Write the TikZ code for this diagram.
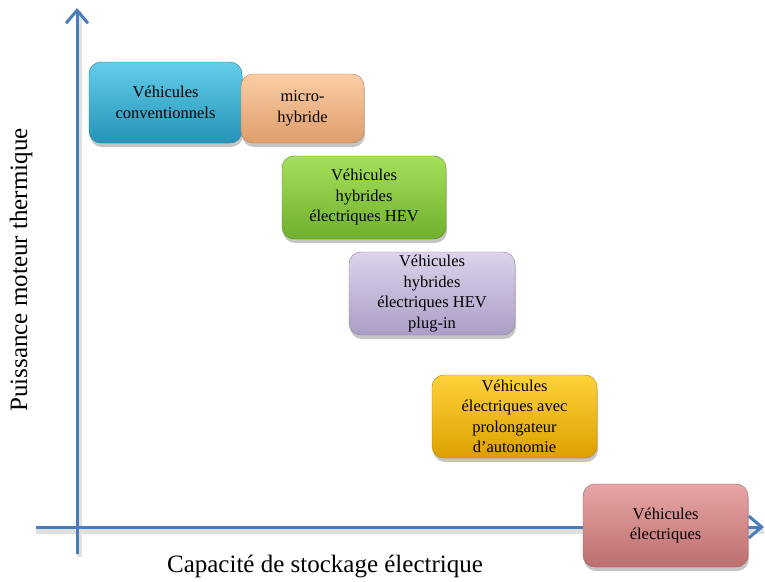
\documentclass[tikz,border=0pt]{standalone}
\usepackage{fontspec}
\setmainfont{Liberation Serif}
\usetikzlibrary{arrows.meta,shadows}
\definecolor{axisblue}{HTML}{4A7EBB}
\definecolor{cyanT}{HTML}{63CDEA}\definecolor{cyanB}{HTML}{2594B8}
\definecolor{orT}{HTML}{FBCDA6}\definecolor{orB}{HTML}{DE9E6C}
\definecolor{grT}{HTML}{A6E05C}\definecolor{grB}{HTML}{6FB02C}
\definecolor{lvT}{HTML}{DCD3EC}\definecolor{lvB}{HTML}{AC9EC6}
\definecolor{gdT}{HTML}{FFD23A}\definecolor{gdB}{HTML}{DDA000}
\definecolor{rsT}{HTML}{E8A6A6}\definecolor{rsB}{HTML}{BD6E6E}
\begin{document}
\begin{tikzpicture}[x=1pt,y=-1pt,
  box/.style={rectangle,rounded corners=12pt,inner sep=2pt,align=center,
    font=\fontsize{16.5}{20.5}\selectfont,
    drop shadow={shadow xshift=1pt,shadow yshift=-4pt,opacity=0.45,fill=black!50}},
  axis/.style={draw=axisblue,line width=3pt,-{Straight Barb[length=13pt,width=22pt]}},
  axshadow/.style={draw=black!12,line width=5pt},
  axlabel/.style={font=\fontsize{25}{30}\selectfont}]
\useasboundingbox (0,0) rectangle (765,581);
\fill[white] (0,0) rectangle (765,581);
% axes
\coordinate (ybot) at (77,554);
\coordinate (ytop) at (77,8);
\coordinate (xleft) at (36,527);
\coordinate (xright) at (764,527);
\draw[axshadow] ([xshift=2pt,yshift=-3pt]ybot) -- ([xshift=2pt,yshift=-3pt]ytop);
\draw[axshadow] ([yshift=-4pt]xleft) -- ([yshift=-4pt]xright);
\draw[axis] (ybot) -- (ytop);
\draw[axis] (xleft) -- (xright);
% labels
\node[axlabel,rotate=90] (ylab) at (21,270) {Puissance moteur thermique};
\node[axlabel] (xlab) at (325,566) {Capacité de stockage électrique};
% boxes
\node[box,minimum width=153pt,minimum height=81pt,draw=cyanB!80!black,line width=0.4pt,
  top color=cyanT,bottom color=cyanB] (conv) at (165.5,102.5) {Véhicules\\conventionnels};
\node[box,minimum width=123pt,minimum height=69pt,draw=orB!80!black,line width=0.4pt,
  top color=orT,bottom color=orB] (micro) at (302.5,108.5) {micro-\\hybride};
\node[box,minimum width=164pt,minimum height=83pt,draw=grB!80!black,line width=0.4pt,
  top color=grT,bottom color=grB] (hev) at (364,197.5) {Véhicules\\hybrides\\électriques HEV};
\node[box,minimum width=166pt,minimum height=83pt,draw=lvB!80!black,line width=0.4pt,
  top color=lvT,bottom color=lvB] (plug) at (432,293.5) {Véhicules\\hybrides\\électriques HEV\\plug-in};
\node[box,minimum width=165pt,minimum height=83pt,draw=gdB!80!black,line width=0.4pt,
  top color=gdT,bottom color=gdB] (rex) at (514.5,416.5) {Véhicules\\électriques avec\\prolongateur\\d’autonomie};
\node[box,minimum width=165pt,minimum height=83pt,draw=rsB!80!black,line width=0.4pt,
  top color=rsT,bottom color=rsB] (ev) at (665.5,525.5) {Véhicules\\électriques};
\end{tikzpicture}
\end{document}
